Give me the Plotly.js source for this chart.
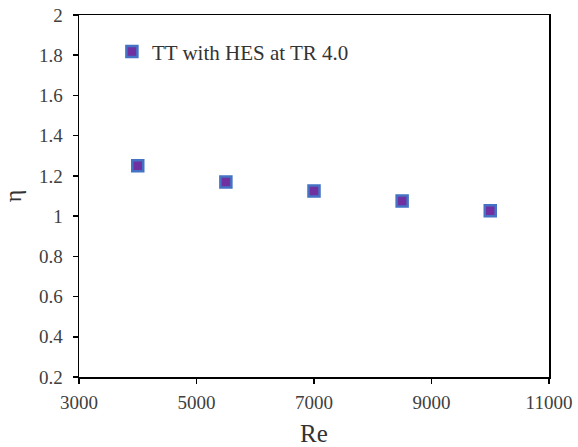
<!DOCTYPE html>
<html>
<head>
<meta charset="utf-8">
<script src="https://cdn.plot.ly/plotly-3.0.1.min.js"></script>
<style>html,body{margin:0;padding:0;background:#fff;}#chart{width:578px;height:447px;}</style>
</head>
<body>
<div id="chart"></div>
<script>
const seriesName = "TT with HES at TR 4.0";
const reValues = [4000, 5500, 7000, 8500, 10000];
const etaValues = [1.25, 1.17, 1.125, 1.075, 1.027];
const xTicks = [3000, 5000, 7000, 9000, 11000];
const yTicks = [0.2, 0.4, 0.6, 0.8, 1, 1.2, 1.4, 1.6, 1.8, 2];

const serif = 'Liberation Serif';

const trace = {
  x: reValues,
  y: etaValues,
  type: 'scatter',
  mode: 'markers',
  name: seriesName,
  marker: {symbol: 'square', size: 11, color: '#7030A0', line: {color: '#4472C4', width: 2.5}}
};

const layout = {
  width: 578, height: 447,
  margin: {l: 79, r: 29, t: 15, b: 70},
  paper_bgcolor: '#fff', plot_bgcolor: '#fff',
  font: {family: serif, color: '#404040', size: 19},
  showlegend: true,
  legend: {x: 0.07, y: 0.955, xanchor: 'left', yanchor: 'top', bgcolor: 'rgba(0,0,0,0)',
           font: {family: serif, size: 21, color: '#333'}},
  xaxis: {
    range: [3000, 11000], tickvals: xTicks, ticktext: xTicks.map(String),
    showgrid: false, zeroline: false, showline: true, linecolor: '#000', linewidth: 1.5,
    mirror: true, ticks: 'outside', ticklen: 5, tickcolor: '#000', tickwidth: 1.5,
    automargin: false, ticklabelstandoff: 3,
    tickfont: {family: serif, size: 19, color: '#404040'},
    title: {text: 'Re', font: {family: serif, size: 25, color: '#333'}, standoff: 14}
  },
  yaxis: {
    range: [0.2, 2], tickvals: yTicks, ticktext: yTicks.map(v => String(v)),
    showgrid: false, zeroline: false, showline: true, linecolor: '#000', linewidth: 1.5,
    mirror: true, ticks: 'outside', ticklen: 5, tickcolor: '#000', tickwidth: 1.5,
    automargin: false, ticklabelstandoff: 6,
    tickfont: {family: serif, size: 19, color: '#404040'},
    title: {text: 'η', font: {family: serif, size: 24, color: '#333'}, standoff: 10}
  }
};

Plotly.newPlot('chart', [trace], layout, {staticPlot: true, displayModeBar: false});
</script>
</body>
</html>
